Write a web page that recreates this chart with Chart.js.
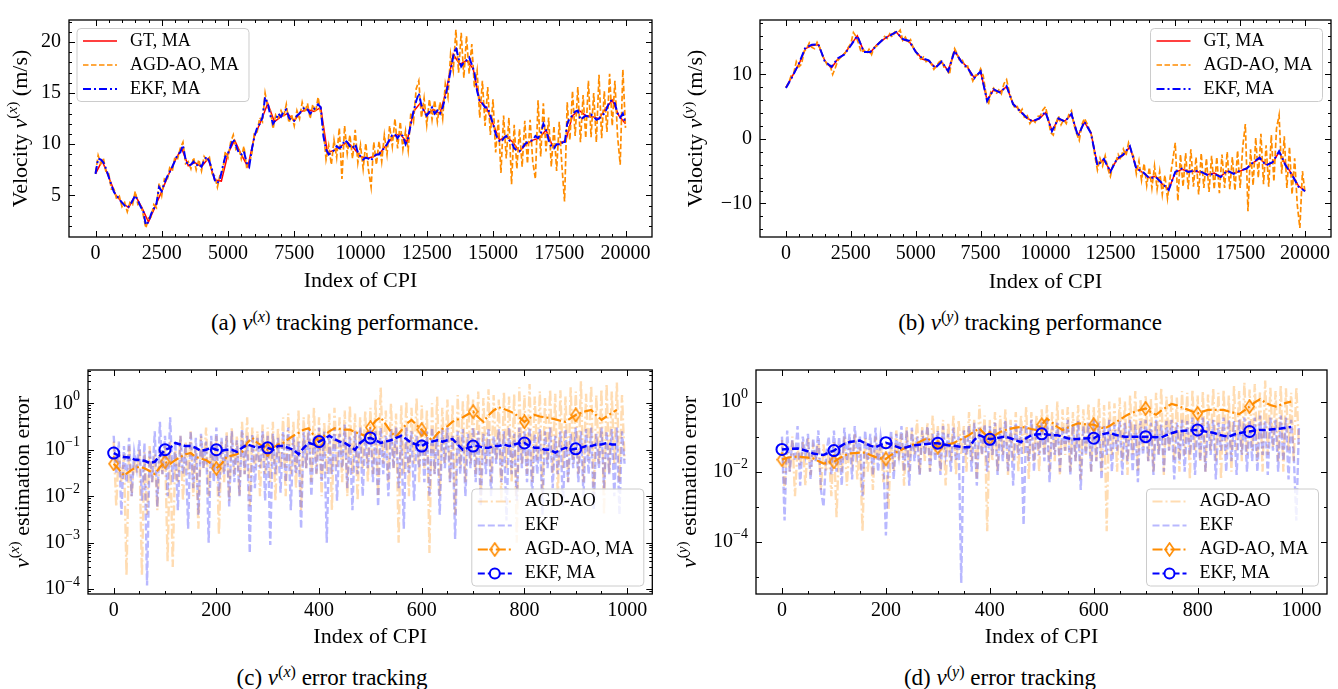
<!DOCTYPE html>
<html>
<head>
<meta charset="utf-8">
<script src="https://cdn.jsdelivr.net/npm/chart.js@4.4.0/dist/chart.umd.min.js"></script>
<style>
  body { margin: 0; background: #fff; width: 1338px; height: 689px; position: relative; overflow: hidden; font-family: "Liberation Serif", serif; }
  canvas { position: absolute; }
  .cap { position: absolute; font-size: 23px; line-height: 28px; white-space: nowrap; transform: translateX(-50%); color: #000; }
  .cap sup { font-size: 70%; vertical-align: 0; position: relative; top: -0.5em; }
</style>
</head>
<body>
<canvas id="ca" width="660" height="300" style="left:0;top:0"></canvas>
<canvas id="cb" width="668" height="300" style="left:670px;top:0"></canvas>
<canvas id="cc" width="660" height="300" style="left:0;top:360px"></canvas>
<canvas id="cd" width="668" height="300" style="left:670px;top:360px"></canvas>
<div class="cap" style="left:345px;top:309px">(a) <i>v</i><sup>(<i>x</i>)</sup> tracking performance.</div>
<div class="cap" style="left:1030px;top:309px">(b) <i>v</i><sup>(<i>y</i>)</sup> tracking performance</div>
<div class="cap" style="left:332px;top:664px">(c) <i>v</i><sup>(<i>x</i>)</sup> error tracking</div>
<div class="cap" style="left:1000px;top:664px">(d) <i>v</i><sup>(<i>y</i>)</sup> error tracking</div>
<script>
// ---- velocity tracking, x component (CPI step 250 for GT, 100 for estimates)
const vxGT = [7.1, 8.4, 6.8, 5.1, 4.3, 3.8, 5.0, 3.8, 2.4, 3.9, 5.4, 7.0, 8.4, 9.6, 7.9, 8.2, 7.8, 8.6, 6.5, 6.4,
  9.1, 10.4, 9.0, 7.8, 10.8, 12.3, 14.0, 12.2, 12.7, 13.0, 12.3, 13.2, 13.4, 13.2, 13.6, 9.2, 9.4, 9.8, 10.2, 9.6,
  8.8, 8.6, 8.8, 9.2, 10.0, 10.8, 11.0, 10.2, 13.2, 14.0, 12.8, 13.4, 13.0, 15.4, 18.8, 17.8, 18.2, 17.4, 14.2, 13.6,
  12.0, 10.4, 10.8, 10.2, 9.3, 10.0, 10.4, 10.6, 11.4, 9.8, 10.0, 10.4, 12.8, 13.3, 12.8, 12.7, 12.5, 13.5, 14.3, 12.8, 12.0];
const vxEKF = [7.1, 8.6, 8.5, 8.2, 7.6, 6.8, 6.0, 5.3, 5.0, 4.6,
  4.3, 4.0, 3.8, 4.0, 4.5, 5.0, 4.5, 3.9, 3.5, 2.1,
  2.4, 3.2, 3.7, 4.2, 5.8, 5.4, 6.2, 6.8, 7.3, 7.8,
  8.4, 9.0, 9.2, 9.9, 8.5, 7.9, 8.0, 8.3, 7.9, 8.1,
  7.8, 8.4, 8.8, 8.3, 7.5, 6.5, 6.2, 6.6, 7.8, 8.8,
  9.1, 9.8, 10.5, 9.9, 9.2, 9.0, 9.3, 8.2, 7.8, 9.5,
  10.8, 11.6, 12.0, 12.6, 14.6, 14.0, 12.8, 12.0, 12.4, 13.0,
  12.7, 13.2, 13.4, 12.6, 12.3, 12.3, 12.8, 13.0, 13.4, 13.6,
  13.4, 13.0, 13.3, 13.6, 13.9, 13.6, 10.8, 9.5, 9.0, 9.2,
  9.4, 9.8, 9.6, 9.8, 10.4, 10.2, 9.8, 9.6, 10.0, 9.2,
  8.8, 8.5, 8.7, 8.6, 8.4, 8.8, 9.0, 9.0, 9.4, 9.6,
  10.0, 10.5, 10.9, 11.0, 10.6, 11.0, 10.8, 10.0, 10.6, 12.0,
  13.2, 14.2, 15.0, 13.8, 13.2, 12.8, 13.2, 13.6, 13.0, 13.3,
  13.0, 13.6, 14.6, 15.8, 17.2, 18.6, 19.5, 18.4, 17.6, 18.0,
  18.2, 18.5, 17.8, 17.0, 15.2, 14.2, 14.0, 13.6, 13.6, 12.8,
  12.0, 11.0, 10.4, 10.2, 10.6, 10.8, 10.4, 10.2, 9.6, 9.4,
  9.3, 9.6, 10.0, 10.2, 10.3, 10.4, 10.8, 10.6, 11.0, 12.0,
  11.4, 10.4, 9.8, 9.6, 10.0, 10.0, 10.2, 10.0, 12.0, 12.6,
  12.8, 13.2, 13.3, 12.4, 12.6, 12.8, 12.7, 12.9, 12.7, 12.4,
  12.5, 12.8, 13.0, 13.5, 14.2, 14.3, 14.0, 13.0, 12.6, 13.0,
  12.0];
const vxAGD = [7.2, 8.9, 8.1, 8.6, 7.2, 7.1, 5.6, 5.6, 4.6, 4.9,
  3.9, 4.3, 3.4, 4.3, 4.1, 5.4, 4.1, 4.2, 3.1, 1.8,
  2.8, 2.9, 4.1, 3.8, 6.2, 5.0, 6.6, 6.4, 7.7, 7.4,
  8.8, 8.6, 9.6, 10.2, 8.1, 8.3, 7.6, 8.7, 7.5, 8.5,
  7.4, 8.8, 8.4, 8.7, 7.1, 6.9, 5.8, 7.0, 7.4, 9.3,
  8.7, 10.2, 10.9, 9.5, 9.7, 8.6, 9.8, 7.8, 8.1, 9.1,
  11.2, 11.2, 12.6, 12.2, 15.0, 13.6, 13.3, 11.5, 12.9, 12.6,
  13.3, 12.7, 13.9, 12.1, 12.9, 11.8, 13.3, 12.5, 14.1, 13.1,
  14.0, 12.5, 13.9, 13.1, 14.6, 13.0, 11.4, 8.5, 9.9, 8.0,
  10.4, 8.7, 11.6, 6.6, 11.8, 9.1, 10.9, 8.6, 11.4, 8.2,
  9.9, 7.6, 10.1, 7.5, 5.8, 10.2, 8.0, 10.3, 8.3, 10.9,
  9.0, 11.8, 9.8, 12.5, 9.6, 12.2, 9.5, 11.3, 9.4, 13.1,
  12.2, 15.4, 16.2, 12.6, 14.5, 11.9, 14.4, 12.4, 14.3, 12.2,
  14.1, 12.5, 15.9, 14.6, 18.8, 17.2, 21.2, 17.0, 20.9, 16.5,
  20.6, 16.9, 19.8, 15.5, 17.2, 12.6, 16.2, 11.8, 15.6, 10.9,
  14.4, 9.2, 12.4, 7.2, 12.8, 8.6, 12.6, 6.1, 11.9, 7.6,
  11.5, 7.8, 12.3, 8.1, 12.4, 8.3, 6.6, 14.3, 8.8, 14.0,
  9.3, 12.6, 7.8, 11.8, 7.4, 12.2, 7.9, 4.4, 14.1, 10.4,
  15.2, 10.8, 15.6, 10.2, 14.8, 10.6, 16.2, 10.7, 15.0, 10.2,
  16.8, 10.6, 15.2, 11.2, 16.9, 11.8, 16.2, 10.8, 8.0, 17.3,
  11.6];

// ---- velocity tracking, y component (CPI step 250 for GT/EKF, 100 for AGD-AO)
const vyGT = [8.0, 9.8, 11.6, 14.0, 14.5, 14.6, 12.1, 11.0, 12.4, 13.2, 14.6, 16.0, 13.6, 13.4, 14.6, 15.4, 16.1, 16.6, 15.4, 15.1,
  13.6, 12.4, 12.1, 11.1, 11.9, 10.6, 13.6, 12.1, 11.1, 9.5, 10.4, 6.0, 7.6, 7.3, 8.1, 5.5, 4.5, 3.3, 2.8, 3.1,
  4.1, 1.3, 3.1, 2.8, 3.8, 0.5, 2.6, 1.0, -4.0, -3.2, -5.0, -3.2, -2.5, -1.2, -4.5, -5.2, -6.0, -5.8, -7.0, -7.8,
  -5.2, -4.7, -5.0, -5.0, -5.2, -5.5, -5.3, -5.8, -5.0, -5.3, -5.0, -4.5, -3.7, -3.0, -4.0, -3.7, -2.0, -4.0, -5.5, -7.3, -8.0];
const vyEKF = [7.9, 9.7, 11.7, 14.2, 14.6, 14.7, 12.0, 11.2, 12.5, 13.1, 14.5, 16.0, 13.5, 13.5, 14.5, 15.5, 16.0, 16.6, 15.5, 15.2,
  13.5, 12.5, 12.2, 11.0, 12.0, 10.5, 13.7, 12.0, 11.0, 9.4, 10.5, 5.9, 7.7, 7.2, 8.2, 5.4, 4.4, 3.4, 2.7, 3.2,
  4.2, 1.2, 3.2, 2.7, 3.9, 0.4, 2.7, 0.9, -4.1, -3.1, -5.1, -3.1, -2.4, -1.1, -4.6, -5.1, -6.1, -5.9, -6.9, -7.9,
  -5.1, -4.6, -5.1, -4.9, -5.1, -5.6, -5.4, -5.9, -4.9, -5.4, -4.9, -4.6, -3.6, -2.9, -4.1, -3.6, -1.9, -4.1, -5.6, -7.4, -8.1];
const vyAGD = [8.0, 8.6, 9.8, 10.2, 12.0, 11.2, 11.6, 13.6, 14.0, 14.9,
  14.2, 14.0, 15.0, 14.2, 13.0, 12.2, 11.4, 11.4, 10.0, 11.0,
  12.2, 12.6, 13.0, 13.5, 14.2, 14.8, 16.5, 15.9, 14.8, 13.4,
  13.8, 13.2, 13.9, 13.1, 14.2, 14.4, 15.0, 15.3, 15.9, 15.6,
  16.3, 15.8, 16.6, 16.4, 16.9, 15.3, 15.8, 14.9, 15.4, 14.2,
  13.6, 12.8, 12.4, 12.7, 12.0, 12.4, 11.6, 10.8, 11.4, 11.9,
  12.2, 11.0, 10.8, 10.0, 12.6, 14.0, 13.2, 12.0, 12.2, 11.2,
  11.3, 10.2, 9.0, 9.9, 10.0, 10.9, 9.8, 7.2, 5.3, 7.4,
  7.9, 7.0, 7.6, 7.0, 8.6, 9.2, 7.4, 5.9, 5.0, 5.2,
  4.0, 4.6, 3.2, 3.6, 2.4, 3.0, 2.6, 3.5, 3.6, 4.5,
  5.0, 3.2, 1.0, 0.6, 2.4, 3.6, 2.2, 3.0, 2.4, 3.8,
  4.4, 2.2, 0.8, -0.2, 2.2, 3.2, 2.4, 1.4, 0.2, -2.6,
  -4.8, -3.0, -4.2, -2.6, -4.6, -5.8, -4.0, -3.6, -2.4, -3.2,
  -1.6, -2.6, -0.6, -1.8, -2.8, -5.4, -3.4, -6.4, -3.8, -7.2,
  -4.4, -7.6, -4.2, -7.8, -5.0, -8.6, -5.6, -9.2, -6.0, -3.4,
  -0.6, -9.6, -2.4, -7.4, -2.2, -7.8, -1.6, -7.4, -2.8, -8.6,
  -2.2, -7.6, -3.0, -8.2, -2.6, -7.8, -2.8, -8.4, -2.4, -7.6,
  -2.0, -7.8, -2.8, -8.0, -1.8, -7.6, -1.2, 2.3, -11.2, -1.6,
  -7.2, 0.2, -6.0, 0.8, -7.0, -1.0, -7.4, 0.6, -6.6, 1.6,
  3.7, -5.4, 0.4, -7.6, -1.2, -8.6, -3.0, -10.2, -13.8, -5.0,
  -8.4];

// ---- estimation error, x component (raw every 5 CPI, moving average every 10 CPI)
const exAGD = [0.15, 0.006, 0.1, 0.02, 0.08, 0.0002, 0.12, 0.01, 0.06, 0.03, 0.1, 0.0002, 0.09, 0.004, 0.12, 0.02, 0.08, 0.005, 0.1, 0.03,
  0.12, 0.0004, 0.15, 0.0003, 0.1, 0.02, 0.2, 0.008, 0.15, 0.03, 0.25, 0.01, 0.12, 0.002, 0.2, 0.04, 0.3, 0.01, 0.15, 0.03,
  0.2, 0.0015, 0.15, 0.02, 0.25, 0.008, 0.3, 0.03, 0.2, 0.01, 0.4, 0.03, 0.5, 0.006, 0.3, 0.04, 0.25, 0.01, 0.35, 0.03,
  0.3, 0.02, 0.4, 0.008, 0.3, 0.04, 0.5, 0.01, 0.6, 0.03, 0.4, 0.015, 0.7, 0.005, 0.5, 0.04, 0.6, 0.02, 0.8, 0.03,
  0.5, 0.01, 0.4, 0.03, 0.6, 0.005, 0.8, 0.04, 0.5, 0.02, 0.7, 0.01, 0.9, 0.03, 0.6, 0.008, 0.5, 0.04, 0.7, 0.02,
  0.8, 0.03, 1.2, 0.01, 2.2, 0.05, 0.7, 0.02, 1.0, 0.04, 0.6, 0.001, 0.9, 0.03, 1.1, 0.01, 0.8, 0.05, 1.3, 0.02,
  0.9, 0.04, 0.7, 0.0006, 1.0, 0.03, 1.4, 0.01, 0.8, 0.05, 1.2, 0.02, 0.9, 0.004, 1.5, 0.04, 1.1, 0.02, 1.6, 0.05,
  1.2, 0.03, 1.8, 0.01, 1.3, 0.05, 2.0, 0.02, 1.5, 0.06, 1.2, 0.008, 1.8, 0.04, 1.4, 0.02, 1.6, 0.001, 2.2, 0.05,
  1.5, 0.03, 2.6, 0.02, 1.4, 0.06, 1.8, 0.01, 1.3, 0.05, 2.0, 0.03, 1.6, 0.008, 1.9, 0.04, 1.4, 0.02, 2.2, 0.05,
  1.8, 0.03, 3.0, 0.02, 1.6, 0.06, 2.4, 0.01, 1.5, 0.05, 2.0, 0.004, 2.6, 0.03, 1.8, 0.05, 2.8, 0.02, 1.5, 0.06];
const exEKF = [0.2, 0.03, 0.15, 0.004, 0.12, 0.02, 0.18, 0.01, 0.09, 0.04, 0.16, 0.008, 0.14, 0.00012, 0.1, 0.02, 0.25, 0.006, 0.4, 0.03,
  0.2, 0.01, 0.5, 0.02, 0.15, 0.005, 0.2, 0.03, 0.12, 0.002, 0.25, 0.015, 0.18, 0.004, 0.22, 0.04, 0.15, 0.001, 0.2, 0.02,
  0.3, 0.01, 0.18, 0.03, 0.2, 0.006, 0.25, 0.02, 0.16, 0.01, 0.28, 0.03, 0.2, 0.0006, 0.22, 0.015, 0.18, 0.04, 0.25, 0.008,
  0.2, 0.0009, 0.22, 0.03, 0.18, 0.012, 0.25, 0.02, 0.3, 0.005, 0.2, 0.03, 0.15, 0.002, 0.24, 0.04, 0.28, 0.01, 0.2, 0.03,
  0.3, 0.02, 0.25, 0.001, 0.2, 0.03, 0.3, 0.008, 0.22, 0.04, 0.35, 0.015, 0.2, 0.005, 0.25, 0.03, 0.3, 0.01, 0.22, 0.04,
  0.3, 0.02, 0.25, 0.006, 0.3, 0.03, 0.2, 0.01, 0.28, 0.04, 0.3, 0.015, 0.22, 0.002, 0.3, 0.03, 0.25, 0.008, 0.2, 0.04,
  0.3, 0.02, 0.25, 0.01, 0.3, 0.03, 0.22, 0.004, 0.28, 0.04, 0.3, 0.02, 0.2, 0.0012, 0.25, 0.03, 0.28, 0.01, 0.22, 0.04,
  0.3, 0.02, 0.25, 0.006, 0.22, 0.03, 0.3, 0.01, 0.2, 0.05, 0.28, 0.02, 0.25, 0.003, 0.3, 0.03, 0.22, 0.008, 0.3, 0.04,
  0.25, 0.02, 0.3, 0.01, 0.22, 0.03, 0.28, 0.004, 0.25, 0.04, 0.3, 0.015, 0.2, 0.03, 0.25, 0.006, 0.28, 0.02, 0.22, 0.04,
  0.3, 0.02, 0.25, 0.01, 0.28, 0.03, 0.3, 0.005, 0.22, 0.04, 0.3, 0.015, 0.25, 0.03, 0.28, 0.01, 0.3, 0.004, 0.25, 0.05];
const exAGDma = [0.05, 0.038, 0.028, 0.034, 0.04, 0.043, 0.04, 0.035, 0.03, 0.042,
  0.055, 0.05, 0.06, 0.07, 0.08, 0.085, 0.07, 0.065, 0.06, 0.05,
  0.04, 0.05, 0.07, 0.075, 0.08, 0.09, 0.14, 0.18, 0.14, 0.12,
  0.1, 0.11, 0.13, 0.14, 0.17, 0.2, 0.23, 0.27, 0.29, 0.2,
  0.15, 0.2, 0.25, 0.29, 0.28, 0.27, 0.27, 0.24, 0.22, 0.2,
  0.3, 0.42, 0.5, 0.35, 0.24, 0.19, 0.26, 0.36, 0.44, 0.34,
  0.27, 0.2, 0.16, 0.22, 0.28, 0.32, 0.4, 0.45, 0.5, 0.58,
  0.66, 0.5, 0.4, 0.55, 0.7, 0.82, 0.75, 0.68, 0.61, 0.5,
  0.4, 0.48, 0.56, 0.52, 0.5, 0.48, 0.45, 0.42, 0.4, 0.48,
  0.56, 0.62, 0.68, 0.72, 0.55, 0.44, 0.52, 0.62, 0.72];
const exEKFma = [0.085, 0.075, 0.07, 0.068, 0.062, 0.06, 0.058, 0.052, 0.055, 0.075,
  0.1, 0.11, 0.14, 0.13, 0.12, 0.12, 0.11, 0.095, 0.1, 0.11,
  0.1, 0.095, 0.1, 0.1, 0.09, 0.11, 0.13, 0.12, 0.11, 0.12,
  0.11, 0.1, 0.12, 0.12, 0.11, 0.1, 0.08, 0.11, 0.14, 0.13,
  0.15, 0.17, 0.2, 0.17, 0.15, 0.14, 0.12, 0.1, 0.14, 0.17,
  0.18, 0.16, 0.14, 0.15, 0.16, 0.18, 0.2, 0.17, 0.14, 0.13,
  0.12, 0.14, 0.15, 0.16, 0.15, 0.16, 0.17, 0.13, 0.1, 0.11,
  0.12, 0.12, 0.11, 0.11, 0.12, 0.12, 0.13, 0.12, 0.13, 0.14,
  0.14, 0.12, 0.11, 0.11, 0.1, 0.1, 0.087, 0.1, 0.11, 0.1,
  0.105, 0.11, 0.12, 0.12, 0.13, 0.13, 0.14, 0.13, 0.13];

// ---- estimation error, y component
const eyAGD = [0.08, 0.003, 0.06, 0.01, 0.1, 0.002, 0.05, 0.015, 0.07, 0.004, 0.09, 0.008, 0.05, 0.02, 0.08, 0.003, 0.06, 0.01, 0.04, 0.002,
  0.07, 0.0005, 0.06, 0.01, 0.1, 0.004, 0.08, 0.02, 0.12, 0.006, 0.05, 0.0002, 0.09, 0.01, 0.07, 0.003, 0.1, 0.02, 0.08, 0.005,
  0.06, 0.0008, 0.1, 0.01, 0.15, 0.02, 0.12, 0.004, 0.2, 0.01, 0.15, 0.03, 0.3, 0.008, 0.2, 0.02, 0.25, 0.01, 0.4, 0.03,
  0.2, 0.01, 0.3, 0.004, 0.25, 0.02, 0.4, 0.008, 0.3, 0.03, 0.2, 0.01, 0.5, 0.02, 0.3, 0.006, 0.8, 0.03, 0.4, 0.0002,
  0.3, 0.02, 0.5, 0.01, 0.4, 0.03, 0.6, 0.008, 0.3, 0.02, 0.5, 0.01, 0.4, 0.03, 0.7, 0.006, 0.5, 0.02, 0.4, 0.01,
  0.6, 0.03, 0.8, 0.01, 0.5, 0.02, 1.0, 0.008, 0.6, 0.03, 0.7, 0.01, 0.5, 0.02, 0.8, 0.006, 0.6, 0.03, 0.9, 0.01,
  0.7, 0.02, 1.2, 0.01, 0.8, 0.0002, 1.0, 0.03, 0.9, 0.01, 1.3, 0.02, 1.0, 0.008, 1.5, 0.03, 2.0, 0.01, 1.2, 0.04,
  1.5, 0.02, 1.2, 0.01, 1.8, 0.03, 2.5, 0.008, 1.4, 0.04, 1.6, 0.02, 1.3, 0.01, 2.0, 0.03, 1.8, 0.006, 2.2, 0.04,
  1.5, 0.02, 2.0, 0.01, 1.6, 0.04, 2.4, 0.02, 1.8, 0.006, 2.2, 0.03, 1.5, 0.01, 2.8, 0.04, 2.0, 0.02, 3.5, 0.03,
  2.2, 0.04, 3.2, 0.02, 2.0, 0.01, 4.0, 0.03, 2.5, 0.05, 2.0, 0.02, 3.0, 0.01, 2.4, 0.04, 1.8, 0.02, 2.6, 0.05];
const eyEKF = [0.1, 0.0004, 0.15, 0.01, 0.08, 0.02, 0.2, 0.004, 0.1, 0.03, 0.12, 0.006, 0.09, 0.02, 0.15, 0.003, 0.001, 0.03, 0.1, 0.008,
  0.15, 0.01, 0.1, 0.004, 0.18, 0.02, 0.12, 0.006, 0.2, 0.03, 0.1, 0.002, 0.15, 0.02, 0.12, 0.008, 0.18, 0.01, 0.1, 0.03,
  0.00015, 0.02, 0.15, 0.006, 0.12, 0.03, 0.2, 0.01, 0.15, 0.004, 0.18, 0.02, 0.1, 0.008, 0.15, 0.03, 0.2, 0.01, 0.12, 0.02,
  0.15, 0.008, 0.2, 0.03, 0.12, 0.01, 0.18, 0.02, 0.1, 0.0000066, 0.15, 0.03, 0.2, 0.01, 0.25, 0.004, 0.18, 0.03, 0.22, 0.01,
  0.2, 0.03, 0.25, 0.008, 0.18, 0.02, 0.3, 0.01, 0.2, 0.004, 0.25, 0.03, 0.2, 0.0003, 0.22, 0.02, 0.3, 0.01, 0.2, 0.03,
  0.25, 0.02, 0.3, 0.005, 0.2, 0.03, 0.25, 0.01, 0.2, 0.04, 0.3, 0.008, 0.22, 0.02, 0.28, 0.003, 0.2, 0.03, 0.25, 0.01,
  0.3, 0.02, 0.25, 0.006, 0.2, 0.03, 0.3, 0.01, 0.22, 0.04, 0.28, 0.008, 0.25, 0.02, 0.3, 0.01, 0.22, 0.005, 0.28, 0.03,
  0.3, 0.02, 0.25, 0.008, 0.3, 0.03, 0.22, 0.01, 0.28, 0.04, 0.3, 0.006, 0.25, 0.02, 0.3, 0.01, 0.28, 0.03, 0.35, 0.008,
  0.3, 0.02, 0.35, 0.01, 0.28, 0.03, 0.3, 0.006, 0.25, 0.04, 0.35, 0.01, 0.3, 0.02, 0.28, 0.008, 0.3, 0.03, 0.35, 0.01,
  0.3, 0.02, 0.35, 0.01, 0.4, 0.03, 0.3, 0.008, 0.35, 0.04, 0.3, 0.01, 0.4, 0.02, 0.35, 0.006, 0.3, 0.03, 0.0004, 0.2];
const eyAGDma = [0.022, 0.025, 0.026, 0.027, 0.026, 0.025, 0.024, 0.02, 0.017, 0.018,
  0.019, 0.024, 0.029, 0.033, 0.034, 0.035, 0.035, 0.03, 0.026, 0.024,
  0.023, 0.03, 0.036, 0.042, 0.05, 0.058, 0.065, 0.078, 0.09, 0.07,
  0.05, 0.055, 0.06, 0.065, 0.078, 0.092, 0.11, 0.14, 0.17, 0.12,
  0.09, 0.11, 0.135, 0.155, 0.17, 0.18, 0.19, 0.18, 0.165, 0.155,
  0.22, 0.33, 0.25, 0.19, 0.155, 0.18, 0.21, 0.24, 0.23, 0.22,
  0.22, 0.19, 0.17, 0.2, 0.25, 0.3, 0.38, 0.46, 0.52, 0.58,
  0.64, 0.5, 0.42, 0.55, 0.7, 0.86, 0.78, 0.68, 0.6, 0.52,
  0.46, 0.52, 0.58, 0.58, 0.58, 0.58, 0.52, 0.48, 0.44, 0.56,
  0.72, 0.95, 1.17, 0.95, 0.8, 0.72, 0.82, 0.92, 1.0];
const eyEKFma = [0.043, 0.044, 0.045, 0.046, 0.042, 0.038, 0.033, 0.031, 0.03, 0.035,
  0.04, 0.05, 0.062, 0.07, 0.074, 0.077, 0.065, 0.055, 0.05, 0.058,
  0.067, 0.06, 0.052, 0.046, 0.05, 0.055, 0.058, 0.06, 0.062, 0.064,
  0.065, 0.06, 0.057, 0.055, 0.052, 0.05, 0.05, 0.08, 0.11, 0.095,
  0.084, 0.09, 0.095, 0.1, 0.09, 0.078, 0.07, 0.09, 0.11, 0.115,
  0.12, 0.115, 0.11, 0.11, 0.1, 0.09, 0.084, 0.086, 0.088, 0.09,
  0.09, 0.11, 0.12, 0.13, 0.115, 0.105, 0.1, 0.1, 0.1, 0.1,
  0.1, 0.098, 0.096, 0.095, 0.11, 0.125, 0.14, 0.145, 0.15, 0.152,
  0.155, 0.145, 0.135, 0.13, 0.115, 0.105, 0.1, 0.115, 0.125, 0.135,
  0.14, 0.15, 0.155, 0.155, 0.16, 0.165, 0.17, 0.18, 0.19];

// tick labels
const velTicks = [0, 2500, 5000, 7500, 10000, 12500, 15000, 17500, 20000];
const errTicks = [0, 200, 400, 600, 800, 1000];
const vxTicks = [5, 10, 15, 20];
const vyTicks = [-10, 0, 10];
const exTicks = [1, 0.1, 0.01, 0.001, 0.0001];
const eyTicks = [1, 0.01, 0.0001];

const SERIF = '"Liberation Serif", "Times New Roman", serif';
const ORANGE = '#ff8c00';
const BLUE = '#0000ff';
Chart.defaults.font.family = SERIF;
Chart.defaults.color = '#000';

const pts = (vals, step) => vals.map((v, i) => ({ x: i * step, y: v }));
const range = (a, b, s) => { const r = []; for (let v = a; v <= b + 1e-9; v += s) r.push(+v.toFixed(6)); return r; };
const logMinors = (d0, d1) => { const r = []; for (let d = d0; d <= d1; d++) for (let k = 2; k <= 9; k++) r.push(k * Math.pow(10, d)); return r; };
const fmt = v => v < 0 ? '\u2212' + Math.abs(v) : String(v);

// thin diamond marker like matplotlib 'd'
const diamond = document.createElement('canvas');
diamond.width = 11; diamond.height = 15;
(function () {
  const g = diamond.getContext('2d');
  g.strokeStyle = ORANGE; g.lineWidth = 1.6;
  g.beginPath(); g.moveTo(5.5, 1); g.lineTo(10, 7.5); g.lineTo(5.5, 14); g.lineTo(1, 7.5); g.closePath(); g.stroke();
})();
const markerAt = c => (c.dataIndex % 10 === 0 ? 5.5 : 0);

function drawRich(ctx, segs, x, y, size, align, rotate) {
  const parts = segs.map(s => {
    const fs = s.sup ? size * 0.7 : size;
    const font = (s.it ? 'italic ' : '') + fs + 'px ' + SERIF;
    ctx.font = font;
    return { t: s.t, font, w: ctx.measureText(s.t).width, dy: s.sup ? -size * 0.36 : 0 };
  });
  const total = parts.reduce((t, p) => t + p.w, 0);
  ctx.save();
  ctx.translate(x, y);
  if (rotate) ctx.rotate(-Math.PI / 2);
  let cx = align === 'right' ? -total : align === 'center' ? -total / 2 : 0;
  ctx.fillStyle = '#000'; ctx.textBaseline = 'middle'; ctx.textAlign = 'left';
  parts.forEach(p => { ctx.font = p.font; ctx.fillText(p.t, cx, p.dy); cx += p.w; });
  ctx.restore();
}

function drawLegend(chart, L) {
  const { ctx, chartArea: a } = chart;
  const sets = chart.data.datasets;
  ctx.font = '18px ' + SERIF;
  const tw = Math.max(...sets.map(d => ctx.measureText(d.label).width));
  const w = 53 + tw + 10, h = 25 + 24 * (sets.length - 1);
  const bx = L.left ? a.left + 8 : a.right - 8.5 - w;
  const by = L.top ? a.top + 8.5 : a.bottom - 8 - h;
  const r = 4;
  ctx.beginPath();
  ctx.moveTo(bx + r, by); ctx.lineTo(bx + w - r, by); ctx.arcTo(bx + w, by, bx + w, by + r, r);
  ctx.lineTo(bx + w, by + h - r); ctx.arcTo(bx + w, by + h, bx + w - r, by + h, r);
  ctx.lineTo(bx + r, by + h); ctx.arcTo(bx, by + h, bx, by + h - r, r);
  ctx.lineTo(bx, by + r); ctx.arcTo(bx, by, bx + r, by, r); ctx.closePath();
  ctx.fillStyle = 'rgba(255,255,255,0.8)'; ctx.fill();
  ctx.strokeStyle = '#cccccc'; ctx.lineWidth = 1; ctx.setLineDash([]); ctx.stroke();
  sets.forEach((d, i) => {
    const yy = by + 12.5 + i * 24;
    ctx.strokeStyle = d.borderColor; ctx.lineWidth = Math.min(d.borderWidth, 2.2);
    ctx.setLineDash(d.borderDash || []);
    ctx.beginPath(); ctx.moveTo(bx + 6, yy); ctx.lineTo(bx + 40, yy); ctx.stroke();
    ctx.setLineDash([]);
    if (d.legendMarker === 'diamond') ctx.drawImage(diamond, bx + 23 - diamond.width / 2, yy - diamond.height / 2);
    if (d.legendMarker === 'circle') {
      ctx.fillStyle = '#fff';
      ctx.beginPath(); ctx.arc(bx + 23, yy, 5, 0, Math.PI * 2); ctx.fill();
      ctx.lineWidth = 2; ctx.strokeStyle = d.borderColor; ctx.stroke();
    }
    ctx.fillStyle = '#000'; ctx.font = '18px ' + SERIF; ctx.textBaseline = 'middle'; ctx.textAlign = 'left';
    ctx.fillText(d.label, bx + 53, yy);
  });
}

// frame with inward ticks on all four sides, y title, log tick labels, legend
const framePlugin = {
  id: 'frame',
  afterDraw(chart, args, o) {
    const { ctx, chartArea: a } = chart;
    const sx = chart.scales.x, sy = chart.scales.y;
    ctx.save();
    ctx.strokeStyle = '#000'; ctx.lineWidth = 1; ctx.setLineDash([]);
    const seg = (x1, y1, x2, y2) => { ctx.beginPath(); ctx.moveTo(x1, y1); ctx.lineTo(x2, y2); ctx.stroke(); };
    const xMarks = (vals, len) => vals.forEach(v => {
      const p = Math.round(sx.getPixelForValue(v)) + 0.5;
      if (p < a.left + 1 || p > a.right - 1) return;
      seg(p, a.bottom, p, a.bottom - len); seg(p, a.top, p, a.top + len);
    });
    const yMarks = (vals, len) => vals.forEach(v => {
      const p = Math.round(sy.getPixelForValue(v)) + 0.5;
      if (p < a.top + 1 || p > a.bottom - 1) return;
      seg(a.left, p, a.left + len, p); seg(a.right, p, a.right - len, p);
    });
    xMarks(o.xMinor, 3); xMarks(o.xMajor, 6); yMarks(o.yMinor, 3); yMarks(o.yMajor, 6);
    ctx.lineWidth = 1.3;
    ctx.strokeRect(a.left, a.top, a.right - a.left, a.bottom - a.top);
    if (o.logLabels) o.logLabels.forEach(v => {
      const e = Math.round(Math.log10(v));
      drawRich(ctx, [{ t: '10' }, { t: e < 0 ? '\u2212' + (-e) : String(e), sup: true }], a.left - 8, sy.getPixelForValue(v), 20, 'right', false);
    });
    drawRich(ctx, o.yTitle, o.yTitleX, (a.top + a.bottom) / 2, 22, 'center', true);
    drawLegend(chart, o.legend);
    ctx.restore();
  }
};

function makeChart(id, c) {
  const yScale = c.log ? {
    type: 'logarithmic', min: c.yMin, max: c.yMax,
    afterBuildTicks: s => { s.ticks = c.yTicks.map(v => ({ value: v })); },
    ticks: { display: false }
  } : {
    type: 'linear', min: c.yMin, max: c.yMax,
    afterBuildTicks: s => { s.ticks = c.yTicks.map(v => ({ value: v })); },
    ticks: { padding: 8, color: '#000', font: { family: SERIF, size: 20 }, callback: v => fmt(v) }
  };
  yScale.afterFit = s => { s.width = c.yWidth; };
  yScale.grid = { display: false, drawTicks: false };
  yScale.border = { display: false };
  return new Chart(document.getElementById(id), {
    type: 'line',
    data: { datasets: c.datasets },
    plugins: [framePlugin],
    options: {
      responsive: false, animation: false, devicePixelRatio: 1,
      layout: { padding: { left: 0, right: c.padRight, top: c.padTop, bottom: 0 } },
      elements: { point: { radius: 0 }, line: { tension: 0 } },
      plugins: {
        legend: { display: false }, tooltip: { enabled: false },
        frame: {
          xMajor: c.xTicks, xMinor: c.xMinor, yMajor: c.yTicks, yMinor: c.yMinor,
          logLabels: c.log ? c.yTicks : null, yTitle: c.yTitle, yTitleX: c.yTitleX, legend: c.legend
        }
      },
      scales: {
        x: {
          type: 'linear', min: c.xMin, max: c.xMax,
          afterFit: s => { s.height = c.xHeight; },
          afterBuildTicks: s => { s.ticks = c.xTicks.map(v => ({ value: v })); },
          ticks: { autoSkip: false, maxRotation: 0, padding: 5, color: '#000', font: { family: SERIF, size: 20 }, callback: v => String(v) },
          grid: { display: false, drawTicks: false }, border: { display: false },
          title: { display: true, text: 'Index of CPI', color: '#000', font: { family: SERIF, size: 22 }, padding: { top: 0, bottom: c.xTitlePad } }
        },
        y: yScale
      }
    }
  });
}

const velSets = (gt, agd, ekf) => [
  { label: 'GT, MA', data: pts(gt, 250), borderColor: '#ff0000', borderWidth: 1.5, order: 3 },
  { label: 'AGD-AO, MA', data: pts(agd, 100), borderColor: ORANGE, borderWidth: 1.7, borderDash: [5.5, 2.5], order: 2 },
  { label: 'EKF, MA', data: ekf.data, borderColor: BLUE, borderWidth: 2, borderDash: [8, 3, 2, 3], order: 1 }
];
const errSets = (agd, ekf, agdMa, ekfMa) => [
  { label: 'AGD-AO', data: pts(agd, 5), borderColor: 'rgba(255,140,0,0.3)', borderWidth: 2.4, borderDash: [10, 3, 2, 3], order: 4 },
  { label: 'EKF', data: pts(ekf, 5), borderColor: 'rgba(0,0,255,0.28)', borderWidth: 2.4, borderDash: [7, 3], order: 3 },
  { label: 'AGD-AO, MA', data: pts(agdMa, 10), borderColor: ORANGE, borderWidth: 2.2, borderDash: [10, 3, 2, 3],
    pointStyle: diamond, pointRadius: markerAt, legendMarker: 'diamond', order: 2 },
  { label: 'EKF, MA', data: pts(ekfMa, 10), borderColor: BLUE, borderWidth: 2.5, borderDash: [7, 3],
    pointStyle: 'circle', pointRadius: markerAt, pointBorderWidth: 2, pointBorderColor: BLUE,
    pointBackgroundColor: 'rgba(0,0,0,0)', legendMarker: 'circle', order: 1 }
];

makeChart('ca', {
  datasets: velSets(vxGT, vxAGD, { data: pts(vxEKF, 100) }),
  xMin: -1000, xMax: 21000, xTicks: velTicks, xMinor: range(0, 20000, 500),
  yMin: 0.93, yMax: 22.15, yTicks: vxTicks, yMinor: range(1, 22, 1),
  yWidth: 69, padRight: 8, padTop: 6, xHeight: 63, xTitlePad: 6, yTitleX: 21,
  yTitle: [{ t: 'Velocity ' }, { t: 'v', it: true }, { t: '(', sup: true }, { t: 'x', sup: true, it: true }, { t: ')', sup: true }, { t: ' (m/s)' }],
  legend: { left: true, top: true }
});
makeChart('cb', {
  datasets: velSets(vyGT, vyAGD, { data: pts(vyEKF, 250) }),
  xMin: -1000, xMax: 21000, xTicks: velTicks, xMinor: range(0, 20000, 500),
  yMin: -15.2, yMax: 18.45, yTicks: vyTicks, yMinor: range(-14, 18, 2),
  yWidth: 90, padRight: 7, padTop: 14, xHeight: 63, xTitlePad: 5, yTitleX: 26.5,
  yTitle: [{ t: 'Velocity ' }, { t: 'v', it: true }, { t: '(', sup: true }, { t: 'y', sup: true, it: true }, { t: ')', sup: true }, { t: ' (m/s)' }],
  legend: { left: false, top: true }
});
makeChart('cc', {
  datasets: errSets(exAGD, exEKF, exAGDma, exEKFma),
  log: true, xMin: -50, xMax: 1049, xTicks: errTicks, xMinor: range(0, 1000, 50),
  yMin: 7.9e-5, yMax: 5.2, yTicks: exTicks, yMinor: logMinors(-5, 0),
  yWidth: 88, padRight: 6, padTop: 10, xHeight: 66, xTitlePad: 10, yTitleX: 23,
  yTitle: [{ t: 'v', it: true }, { t: '(', sup: true }, { t: 'x', sup: true, it: true }, { t: ')', sup: true }, { t: ' estimation error' }],
  legend: { left: false, top: false }
});
makeChart('cd', {
  datasets: errSets(eyAGD, eyEKF, eyAGDma, eyEKFma),
  log: true, xMin: -50, xMax: 1049, xTicks: errTicks, xMinor: range(0, 1000, 50),
  yMin: 3.2e-6, yMax: 8.0, yTicks: eyTicks, yMinor: [1e-5, 1e-3, 1e-1],
  yWidth: 86, padRight: 11, padTop: 10, xHeight: 66, xTitlePad: 10, yTitleX: 20.5,
  yTitle: [{ t: 'v', it: true }, { t: '(', sup: true }, { t: 'y', sup: true, it: true }, { t: ')', sup: true }, { t: ' estimation error' }],
  legend: { left: false, top: false }
});
</script>
</body>
</html>
